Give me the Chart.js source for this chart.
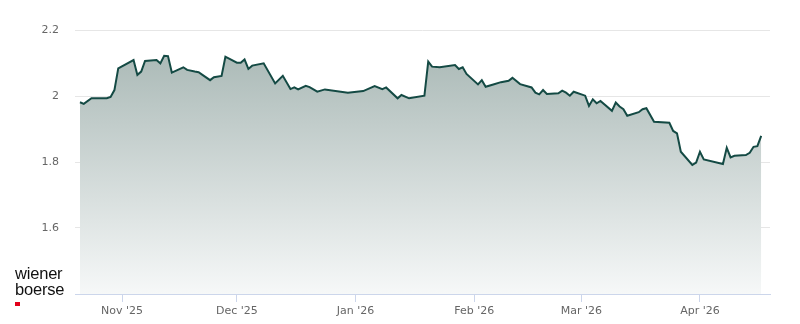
<!DOCTYPE html>
<html>
<head>
<meta charset="utf-8">
<script src="https://cdn.jsdelivr.net/npm/chart.js@4"></script>
<style>
  html, body { margin: 0; padding: 0; background: #ffffff; }
  #wrap { position: relative; width: 800px; height: 324px; }
  #logo { position: absolute; left: 15px; top: 266px; font-family: "Liberation Sans", Arial, sans-serif; font-size: 16.5px; line-height: 15.5px; color: #111; letter-spacing: -0.2px; }
  #logo .sq { position: absolute; left: 0px; top: 36px; width: 5px; height: 4px; background: #e2001a; }
</style>
</head>
<body>
<div id="wrap">
  <canvas id="c" width="800" height="324"></canvas>
  <div id="logo">wiener<br>boerse<div class="sq"></div></div>
</div>
<script>
// ---- data ----
const dates = [
  '2025-10-21','2025-10-22','2025-10-24','2025-10-28','2025-10-29','2025-10-30','2025-10-31',
  '2025-11-04','2025-11-05','2025-11-06','2025-11-07','2025-11-10','2025-11-11','2025-11-12','2025-11-13','2025-11-14',
  '2025-11-17','2025-11-18','2025-11-20','2025-11-21','2025-11-22','2025-11-24','2025-11-25','2025-11-27','2025-11-28',
  '2025-12-01','2025-12-02','2025-12-03','2025-12-04','2025-12-05','2025-12-08','2025-12-11','2025-12-13',
  '2025-12-15','2025-12-16','2025-12-17','2025-12-19','2025-12-20','2025-12-21','2025-12-22','2025-12-24','2025-12-30',
  '2026-01-03','2026-01-06','2026-01-08','2026-01-09','2026-01-12','2026-01-13','2026-01-15','2026-01-19','2026-01-20',
  '2026-01-21','2026-01-23','2026-01-27','2026-01-28','2026-01-29','2026-01-30',
  '2026-02-02','2026-02-03','2026-02-04','2026-02-06','2026-02-08','2026-02-10','2026-02-11','2026-02-13','2026-02-16',
  '2026-02-17','2026-02-18','2026-02-19','2026-02-20','2026-02-23','2026-02-24','2026-02-25','2026-02-26','2026-02-27',
  '2026-03-02','2026-03-03','2026-03-04','2026-03-05','2026-03-06','2026-03-09','2026-03-10','2026-03-11','2026-03-12','2026-03-13',
  '2026-03-16','2026-03-17','2026-03-18','2026-03-20','2026-03-24','2026-03-25','2026-03-26','2026-03-27','2026-03-30','2026-03-31',
  '2026-04-01','2026-04-02','2026-04-07','2026-04-08','2026-04-09','2026-04-10','2026-04-13','2026-04-14','2026-04-15','2026-04-16','2026-04-17'
];
const prices = [
  1.981,1.976,1.993,1.993,1.997,2.018,2.084,
  2.109,2.064,2.074,2.106,2.109,2.099,2.122,2.121,2.071,
  2.087,2.079,2.074,2.072,2.064,2.048,2.057,2.061,2.119,
  2.101,2.101,2.111,2.082,2.092,2.099,2.038,2.061,
  2.021,2.026,2.020,2.031,2.027,2.020,2.013,2.020,2.010,
  2.015,2.030,2.021,2.026,1.993,2.003,1.993,2.001,2.104,
  2.089,2.087,2.094,2.082,2.087,2.067,
  2.035,2.048,2.028,2.035,2.042,2.046,2.055,2.036,2.026,
  2.010,2.005,2.018,2.006,2.008,2.016,2.010,2.001,2.013,
  2.001,1.970,1.990,1.978,1.985,1.955,1.980,1.968,1.960,1.940,
  1.951,1.960,1.963,1.922,1.919,1.894,1.887,1.831,1.791,1.798,
  1.831,1.808,1.794,1.843,1.814,1.819,1.821,1.828,1.846,1.848,1.879
];
const monthTickDates = ['2025-11-01','2025-12-01','2026-01-01','2026-02-01','2026-03-01','2026-04-01'];
const monthTickLabels = ["Nov '25","Dec '25","Jan '26","Feb '26","Mar '26","Apr '26"];
const yTicks = [1.6, 1.8, 2, 2.2];
const yMin = 1.4, yMax = 2.2;

// ---- helpers ----
const base = Date.UTC(2025, 9, 1);
function dayNum(s) {
  const p = s.split('-').map(Number);
  return (Date.UTC(p[0], p[1] - 1, p[2]) - base) / 86400000;
}
const points = dates.map((d, i) => ({ x: dayNum(d), y: prices[i] }));
const monthTicks = monthTickDates.map(dayNum);
const xMin = dayNum('2025-10-20') - 0.3;
const xMax = dayNum('2026-04-19') + 0.3;

const ctx = document.getElementById('c').getContext('2d');
new Chart(ctx, {
  type: 'line',
  data: {
    datasets: [{
      data: points,
      borderColor: '#144a44',
      borderWidth: 2,
      pointRadius: 0,
      pointHoverRadius: 0,
      tension: 0,
      fill: 'start',
      backgroundColor: (c) => {
        const ca = c.chart.chartArea;
        if (!ca) return 'rgba(170,185,182,1)';
        const g = c.chart.ctx.createLinearGradient(0, ca.top, 0, ca.bottom);
        g.addColorStop(0, 'rgb(164,180,177)');
        g.addColorStop(1, 'rgb(246,248,248)');
        return g;
      }
    }]
  },
  options: {
    responsive: false,
    animation: false,
    events: [],
    layout: { padding: { top: 30, right: 30, bottom: 0, left: 0 } },
    plugins: { legend: { display: false }, tooltip: { enabled: false } },
    scales: {
      x: {
        type: 'linear',
        min: xMin,
        max: xMax,
        afterBuildTicks: (s) => { s.ticks = monthTicks.map(v => ({ value: v })); },
        afterFit: (s) => { s.height = 30; },
        border: { display: true, color: '#ccd6eb', width: 1 },
        grid: { drawOnChartArea: false, drawTicks: true, tickLength: 8, tickColor: '#ccd6eb', color: '#ccd6eb' },
        ticks: {
          autoSkip: false, maxRotation: 0, padding: 3,
          color: '#666666', font: { family: 'DejaVu Sans', size: 11 },
          callback: (v, i) => monthTickLabels[i]
        }
      },
      y: {
        min: yMin,
        max: yMax,
        afterBuildTicks: (s) => { s.ticks = [yMin].concat(yTicks).map(v => ({ value: v })); },
        afterFit: (s) => { s.width = 75; },
        border: { display: false },
        grid: { color: '#e6e6e6', lineWidth: 1, drawTicks: false },
        ticks: {
          padding: 16,
          color: '#666666', font: { family: 'DejaVu Sans', size: 11 },
          callback: (v) => (v === yMin ? '' : String(+v.toFixed(1)))
        }
      }
    }
  }
});
</script>
</body>
</html>
